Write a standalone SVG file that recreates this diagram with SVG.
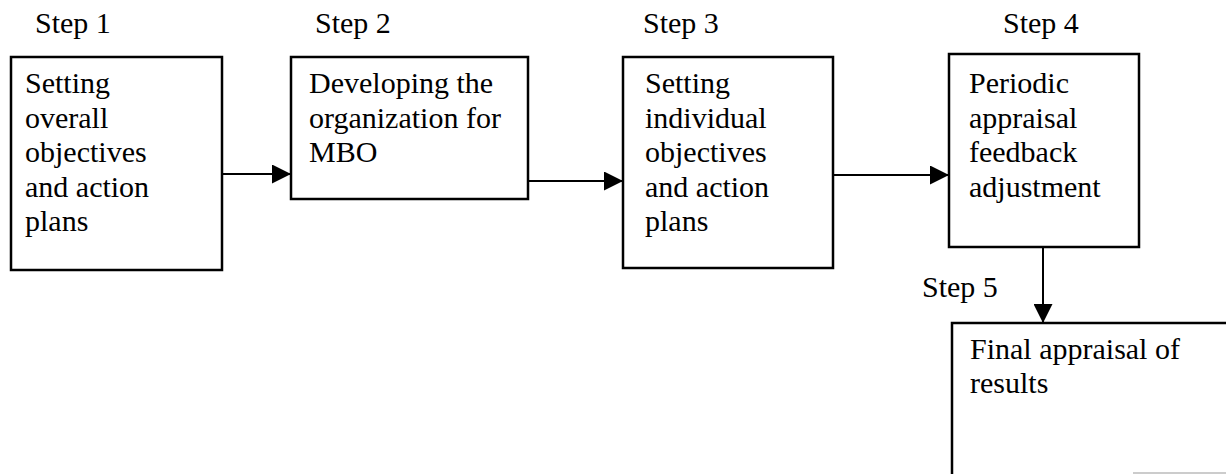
<svg xmlns="http://www.w3.org/2000/svg" width="1226" height="474" viewBox="0 0 1226 474">
<style>
.box{fill:#fff;stroke:#000;stroke-width:2.5}
.t{font-family:"Liberation Serif","Times New Roman",serif;font-size:30px;fill:#000}
.c{stroke:#000;stroke-width:2;fill:none}
</style>
<defs>
<marker id="ah" viewBox="0 0 10 10" refX="10" refY="5" markerWidth="19" markerHeight="19" markerUnits="userSpaceOnUse" orient="auto">
<path d="M0,0 L10,5 L0,10 Z" fill="#000"/>
</marker>
</defs>
<rect width="1226" height="474" fill="#fff"/>
<g id="labels">
<text class="t" x="35" y="33">Step 1</text>
<text class="t" x="315" y="33">Step 2</text>
<text class="t" x="643" y="33">Step 3</text>
<text class="t" x="1003" y="33">Step 4</text>
<text class="t" x="922" y="297">Step 5</text>
</g>
<g id="step1">
<rect class="box" x="11" y="57" width="211" height="213"/>
<text class="t"><tspan x="25" y="93">Setting</tspan><tspan x="25" y="127.5">overall</tspan><tspan x="25" y="162">objectives</tspan><tspan x="25" y="196.5">and action</tspan><tspan x="25" y="231">plans</tspan></text>
</g>
<g id="step2">
<rect class="box" x="291" y="57" width="237" height="142"/>
<text class="t"><tspan x="309" y="93">Developing the</tspan><tspan x="309" y="127.5">organization for</tspan><tspan x="309" y="162">MBO</tspan></text>
</g>
<g id="step3">
<rect class="box" x="623" y="57" width="210" height="211"/>
<text class="t"><tspan x="645" y="93">Setting</tspan><tspan x="645" y="127.5">individual</tspan><tspan x="645" y="162">objectives</tspan><tspan x="645" y="196.5">and action</tspan><tspan x="645" y="231">plans</tspan></text>
</g>
<g id="step4">
<rect class="box" x="949" y="54" width="190" height="193"/>
<text class="t"><tspan x="969" y="93">Periodic</tspan><tspan x="969" y="127.5">appraisal</tspan><tspan x="969" y="162">feedback</tspan><tspan x="969" y="196.5">adjustment</tspan></text>
</g>
<g id="step5">
<rect class="box" x="952" y="323" width="300" height="180"/>
<text class="t"><tspan x="970" y="359">Final appraisal of</tspan><tspan x="970" y="393">results</tspan></text>
</g>
<line x1="1133" y1="473" x2="1226" y2="473" stroke="#bbb" stroke-width="1.5"/>
<g id="connectors">
<line class="c" x1="222" y1="174" x2="291" y2="174" marker-end="url(#ah)"/>
<line class="c" x1="528" y1="181" x2="623" y2="181" marker-end="url(#ah)"/>
<line class="c" x1="833" y1="175" x2="949" y2="175" marker-end="url(#ah)"/>
<line class="c" x1="1043" y1="247" x2="1043" y2="323" marker-end="url(#ah)"/>
</g>
</svg>
